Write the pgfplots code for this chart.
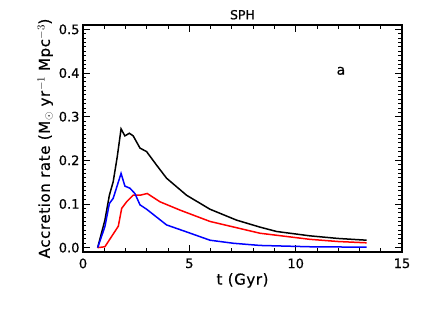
\documentclass[border=0pt]{standalone}
\usepackage{pgfplots}
\pgfplotsset{compat=1.18}
\usepackage{fontspec}
\setmainfont[FakeBold=0.6]{DejaVu Sans}
\newfontfamily\labfont[LetterSpace=4,FakeBold=0.6]{DejaVu Sans}
\usetikzlibrary{calc}
\begin{document}
\begin{tikzpicture}
\begin{axis}[
  name=ax,
  scale only axis,
  width=319pt, height=227pt,
  xmin=0, xmax=15, ymin=-0.01, ymax=0.51,
  xtick={0,5,10,15}, ytick={0,0.1,0.2,0.3,0.4,0.5},
  minor x tick num=4, minor y tick num=9,
  yticklabel style={/pgf/number format/.cd, fixed, fixed zerofill, precision=1},
  /pgf/number format/assume math mode=true,
  tick align=inside,
  major tick length=7pt, minor tick length=3.5pt,
  tick style={black, line width=0.8pt},
  axis line style={line width=1.1pt},
  ticklabel style={font=\fontsize{13}{15}\selectfont},
  xticklabel style={yshift=-3pt},
  xlabel={t (Gyr)}, ylabel={Accretion rate (M$_\odot$ yr$^{-1}$ Mpc$^{-3}$)},
  xlabel style={font=\labfont\fontsize{15}{17}\selectfont, yshift=2pt},
  ylabel style={font=\labfont\fontsize{15}{17}\selectfont, yshift=-1pt},
  title={SPH}, title style={font=\fontsize{12.5}{14}\selectfont, yshift=-4pt},
  every axis plot/.append style={line width=1.5pt},
]
\addplot[black] coordinates {
(0.69,0) (1.03,0.063) (1.24,0.12) (1.42,0.151) (1.61,0.208) (1.79,0.272) (1.97,0.256) (2.18,0.262) (2.36,0.256) (2.68,0.228) (2.99,0.220) (3.46,0.189) (3.93,0.159) (4.87,0.120) (5.97,0.088) (7.22,0.063) (8.32,0.047) (9.1,0.037) (10.67,0.027) (12.0,0.021) (13.34,0.017)
};
\addplot[red] coordinates {
(0.69,0) (1.03,0.002) (1.66,0.049) (1.82,0.09) (2.05,0.105) (2.36,0.12) (2.68,0.12) (3.02,0.124) (3.62,0.105) (4.56,0.086) (5.97,0.06) (8.32,0.033) (10.67,0.019) (12.0,0.014) (13.34,0.011)
};
\addplot[blue] coordinates {
(0.69,0) (1.03,0.048) (1.24,0.101) (1.42,0.113) (1.79,0.170) (1.97,0.141) (2.21,0.136) (2.44,0.124) (2.68,0.098) (2.99,0.088) (3.93,0.052) (4.87,0.036) (5.97,0.017) (7.07,0.010) (8.32,0.005) (10.67,0.002) (13.34,0.001)
};
\node[font=\fontsize{14}{16}\selectfont] at (axis cs:12.13,0.405) {a};
\end{axis}
\path[use as bounding box] ($(ax.south west)+(-83pt,-60pt)$) rectangle ($(ax.north east)+(35pt,25pt)$);
\end{tikzpicture}
\end{document}
